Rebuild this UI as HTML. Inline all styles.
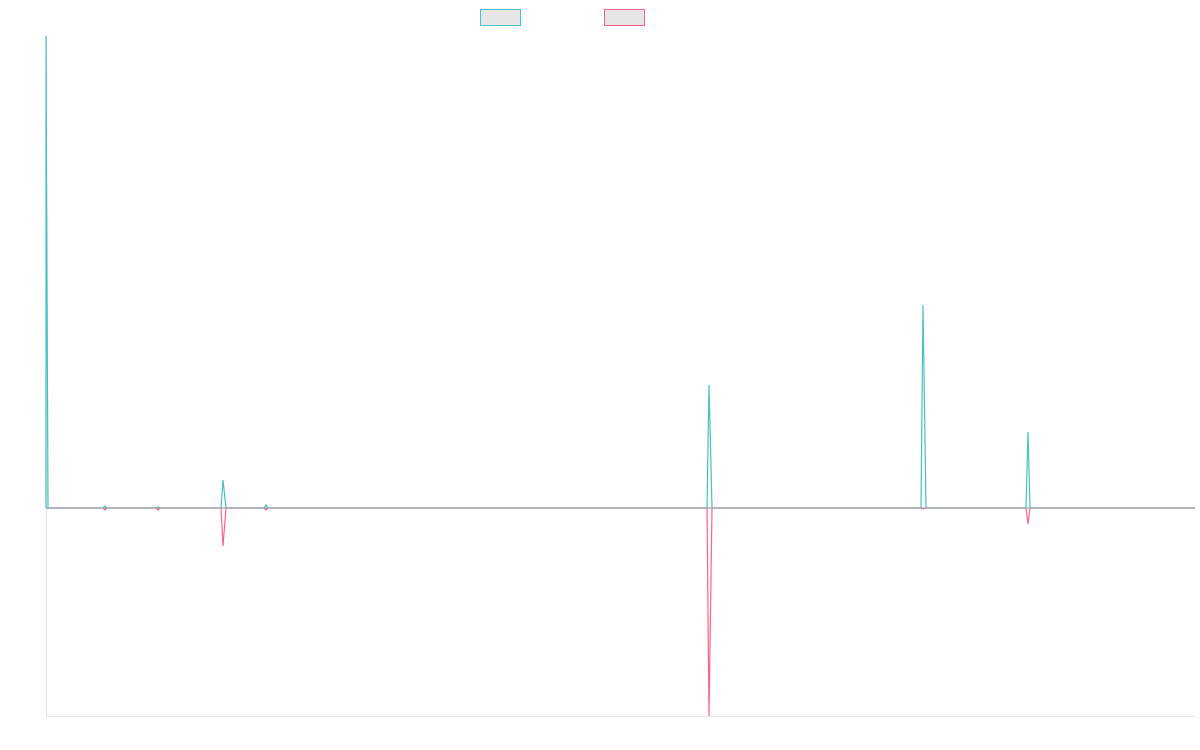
<!DOCTYPE html>
<html><head><style>html,body{margin:0;padding:0;background:#fff;}svg{display:block}</style></head>
<body>
<svg width="1200" height="750" viewBox="0 0 1200 750" xmlns="http://www.w3.org/2000/svg">
<rect x="480.5" y="9.5" width="40" height="16" fill="#e6e6e6" stroke="#4bc0c0" stroke-width="1"/>
<rect x="604.5" y="9.5" width="40" height="16" fill="#e6e6e6" stroke="#ff6384" stroke-width="1"/>
<line x1="46.5" y1="36" x2="46.5" y2="716" stroke="#e5e5e5"/>
<line x1="46" y1="716.5" x2="1195" y2="716.5" stroke="#e5e5e5"/>
<g fill="none" stroke-width="1.2">
<polyline stroke="#ff6384" points="46,508 103,508 105,510 107,508 156,508 158,510 160,508 221,508 223,546 226,508 264,508 266,510 268,508 707,508 709,716 712,508 921,508 923,509 926,508 1026,508 1028,524 1030,508 1195,508"/>
<polyline stroke="#4bc0c0" points="46,508 46,36 48,508 103,508 105,506 107,508 156,508 158,507 160,508 221,508 223,480 226,508 264,508 266,505 268,508 707,508 709,385 712,508 921,508 923,305 926,508 1026,508 1028,432 1030,508 1195,508"/>
<line x1="46" y1="508" x2="1195" y2="508" stroke="#9aa5ab" stroke-width="1.3"/>
</g>
</svg>
</body></html>
